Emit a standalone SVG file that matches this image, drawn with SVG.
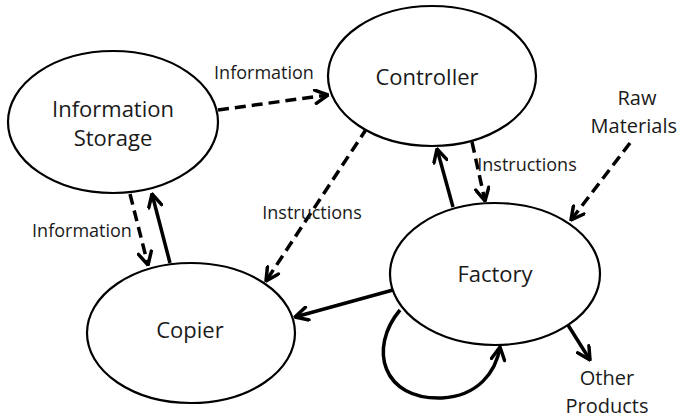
<svg xmlns="http://www.w3.org/2000/svg" width="679" height="420" viewBox="0 0 679 420">
<style>
.node{fill:#fff;stroke:#000;stroke-width:2.2}
.nt{font-family:"Open Sans","Liberation Sans",sans-serif;font-size:22px;fill:#1a1a1a;text-anchor:middle}
.lt{font-family:"Open Sans","Liberation Sans",sans-serif;font-size:18px;fill:#1a1a1a;text-anchor:middle}
.et{font-family:"Open Sans","Liberation Sans",sans-serif;font-size:20px;fill:#1a1a1a;text-anchor:middle}
.c{fill:none;stroke:#000;stroke-width:3.5}
.d{stroke-dasharray:11 6}
</style>
<defs>
<marker id="ah" viewBox="0 0 12 12" refX="11" refY="6" markerWidth="16" markerHeight="16" orient="auto" markerUnits="userSpaceOnUse">
<path d="M1.5,1 L11,6 L1.5,11" fill="none" stroke="#000" stroke-width="2.6" stroke-linecap="round" stroke-linejoin="round"/>
</marker>
</defs>
<rect width="679" height="420" fill="#fff"/>
<g id="connectors">
<path class="c d" d="M218,110 L328,95" marker-end="url(#ah)"/>
<path class="c d" d="M130,194 L148,265" marker-end="url(#ah)"/>
<path class="c" d="M170,263 L152,194" marker-end="url(#ah)"/>
<path class="c d" d="M367,128 L266,281" marker-end="url(#ah)"/>
<path class="c d" d="M472,142 L485,201" marker-end="url(#ah)"/>
<path class="c" d="M453,207 L437,149" marker-end="url(#ah)"/>
<path class="c d" d="M630,143 L571,220" marker-end="url(#ah)"/>
<path class="c" d="M393,290 L295,317" marker-end="url(#ah)"/>
<path class="c" d="M400,310 C368,348 382,400 442,398 C478,396 496,372 500,347" marker-end="url(#ah)"/>
<path class="c" d="M568,325 L590,360" marker-end="url(#ah)"/>
</g>
<g id="information-storage">
<ellipse class="node" cx="113" cy="122" rx="105" ry="71"/>
<text class="nt" x="113" y="117">Information</text>
<text class="nt" x="113" y="146">Storage</text>
</g>
<g id="controller">
<ellipse class="node" cx="432" cy="76" rx="104" ry="70"/>
<text class="nt" x="427" y="85">Controller</text>
</g>
<g id="copier">
<ellipse class="node" cx="191" cy="333" rx="104" ry="70"/>
<text class="nt" x="190" y="338">Copier</text>
</g>
<g id="factory">
<ellipse class="node" cx="495" cy="274" rx="105" ry="71"/>
<text class="nt" x="495" y="282">Factory</text>
</g>
<g id="labels">
<text class="lt" x="264" y="79">Information</text>
<text class="lt" x="82" y="237">Information</text>
<text class="lt" x="312" y="219">Instructions</text>
<text class="lt" x="527" y="171">Instructions</text>
<text class="et" x="637" y="105">Raw</text>
<text class="et" x="677" y="133" style="text-anchor:end">Materials</text>
<text class="et" x="607" y="385">Other</text>
<text class="et" x="607" y="413">Products</text>
</g>
</svg>
